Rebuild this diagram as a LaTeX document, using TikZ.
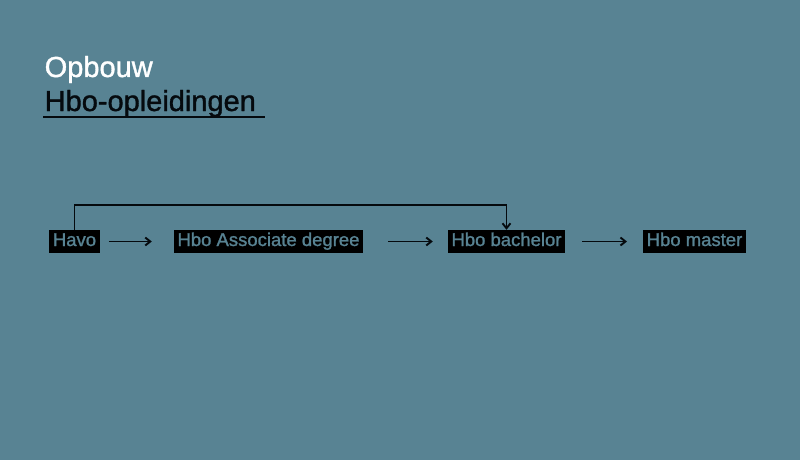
\documentclass[tikz,border=0pt]{standalone}
\usepackage{fontspec}
\setmainfont{Liberation Sans}
\newfontfamily\medfont[BoldFont={Liberation Sans},BoldFeatures={FakeBold=1.2}]{Liberation Sans}
\usetikzlibrary{arrows.meta}
\definecolor{bg}{RGB}{88,131,147}
\definecolor{ink}{RGB}{5,10,14}
\tikzset{
  stepbox/.style={fill=black, text=bg, font=\medfont\bfseries\fontsize{18.5}{20}\selectfont,
    inner xsep=3.5pt, inner ysep=3pt, text height=13pt, text depth=4pt},
  flow/.style={draw=ink, line width=1.9pt, -{Straight Barb[length=5pt,width=8pt]}}
}
\begin{document}
\begin{tikzpicture}[x=1pt,y=-1pt]
\fill[bg] (0,0) rectangle (800,460);
\useasboundingbox (0,0) rectangle (800,460);
\node[anchor=base west, inner sep=0, text=white, font=\medfont\bfseries\fontsize{29}{30}\selectfont] (t1) at (44.5,77) {Opbouw};
\node[anchor=base west, inner sep=0, text=ink, font=\medfont\bfseries\fontsize{29}{30}\selectfont] (t2) at (44.5,111) {Hbo-opleidingen};
\coordinate (u1) at (43,117);
\coordinate (u2) at (265,117);
\draw[ink, line width=1.8pt] (u1) -- (u2);
\node[stepbox] (havo) at (74.5,241.5) {Havo};
\node[stepbox] (ad) at (268.5,241.5) {Hbo Associate degree};
\node[stepbox] (ba) at (506.5,241.5) {Hbo bachelor};
\node[stepbox] (ma) at (694.5,241.5) {Hbo master};
\draw[flow, shorten <=9pt, shorten >=22pt] (havo.east) -- (ad.west);
\draw[flow, shorten <=25pt, shorten >=15pt] (ad.east) -- (ba.west);
\draw[flow, shorten <=17pt, shorten >=16pt] (ba.east) -- (ma.west);
\draw[flow] (havo.north) -- ++(0,-25) -| (ba.north);
\end{tikzpicture}
\end{document}
